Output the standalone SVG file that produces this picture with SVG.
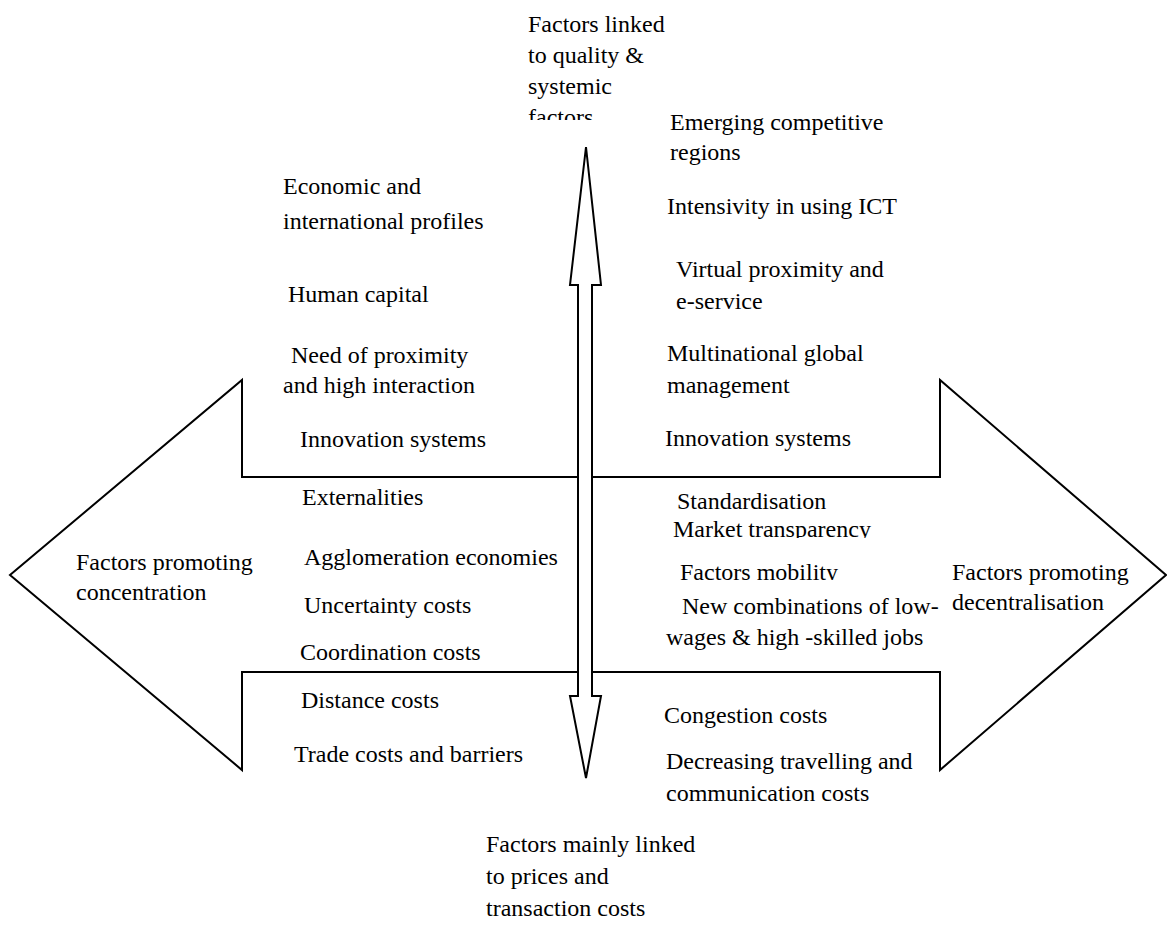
<svg xmlns="http://www.w3.org/2000/svg" width="1167" height="929" viewBox="0 0 1167 929">
<style>
.t{font-family:"Liberation Serif","Times New Roman",serif;font-size:24px;fill:#000}
.s{fill:#fff;stroke:#000;stroke-width:2;stroke-linejoin:miter}
</style>
<defs>
<clipPath id="c1"><rect x="500" y="0" width="200" height="120"/></clipPath>
<clipPath id="c2"><rect x="640" y="515" width="260" height="23"/></clipPath>
<clipPath id="c3"><rect x="640" y="555" width="260" height="25"/></clipPath>
</defs>
<rect width="1167" height="929" fill="#fff"/>
<g id="connectors">
<path id="left-arrow" class="s" d="M578 477 H242 V380 L10 575 L242 770 V672 H578"/>
<path id="right-arrow" class="s" d="M592 477 H940 V380 L1166 575 L940 770 V672 H592"/>
<path id="vertical-arrow" class="s" d="M586 147 L601 285 H592 V696 H601 L586 778 L570 696 H578 V285 H570 Z"/>
</g>
<g id="top-label">
<text class="t" x="528" y="32">Factors linked</text>
<text class="t" x="528" y="63">to quality &amp;</text>
<text class="t" x="528" y="94">systemic</text>
<text class="t" x="528" y="125" clip-path="url(#c1)">factors</text>
</g>
<g id="bottom-label">
<text class="t" x="486" y="852">Factors mainly linked</text>
<text class="t" x="486" y="884">to prices and</text>
<text class="t" x="486" y="916">transaction costs</text>
</g>
<g id="left-label">
<text class="t" x="76" y="570">Factors promoting</text>
<text class="t" x="76" y="600">concentration</text>
</g>
<g id="right-label">
<text class="t" x="952" y="580">Factors promoting</text>
<text class="t" x="952" y="610">decentralisation</text>
</g>
<g id="quality-concentration">
<text class="t" x="283" y="194">Economic and</text>
<text class="t" x="283" y="229">international profiles</text>
<text class="t" x="288" y="302">Human capital</text>
<text class="t" x="291" y="363">Need of proximity</text>
<text class="t" x="283" y="393">and high interaction</text>
<text class="t" x="300" y="447">Innovation systems</text>
</g>
<g id="quality-decentralisation">
<text class="t" x="670" y="130">Emerging competitive</text>
<text class="t" x="670" y="160">regions</text>
<text class="t" x="667" y="214">Intensivity in using ICT</text>
<text class="t" x="676" y="277">Virtual proximity and</text>
<text class="t" x="676" y="309">e-service</text>
<text class="t" x="667" y="361">Multinational global</text>
<text class="t" x="667" y="393">management</text>
<text class="t" x="665" y="446">Innovation systems</text>
</g>
<g id="price-concentration">
<text class="t" x="302" y="505">Externalities</text>
<text class="t" x="304" y="565">Agglomeration economies</text>
<text class="t" x="304" y="613">Uncertainty costs</text>
<text class="t" x="300" y="660">Coordination costs</text>
<text class="t" x="301" y="708">Distance costs</text>
<text class="t" x="294" y="762">Trade costs and barriers</text>
</g>
<g id="price-decentralisation">
<text class="t" x="677" y="509">Standardisation</text>
<text class="t" x="673" y="537" clip-path="url(#c2)">Market transparency</text>
<text class="t" x="680" y="580" clip-path="url(#c3)">Factors mobility</text>
<text class="t" x="682" y="614">New combinations of low-</text>
<text class="t" x="666" y="645">wages &amp; high -skilled jobs</text>
<text class="t" x="664" y="723">Congestion costs</text>
<text class="t" x="666" y="769">Decreasing travelling and</text>
<text class="t" x="666" y="801">communication costs</text>
</g>
</svg>
